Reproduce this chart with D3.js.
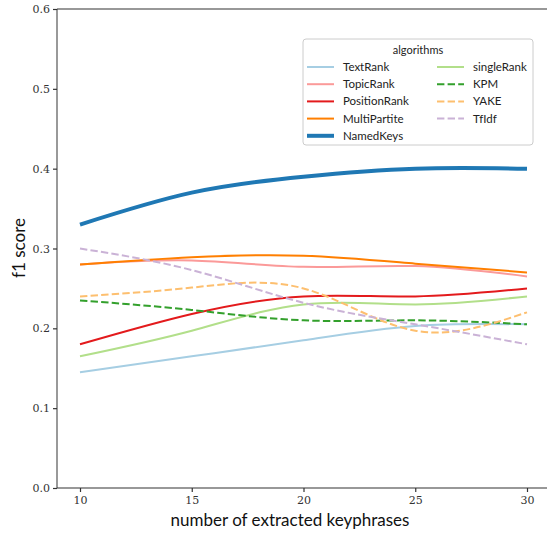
<!DOCTYPE html>
<html>
<head>
<meta charset="utf-8">
<script src="https://cdn.jsdelivr.net/npm/d3@7"></script>
<style>
  body { margin: 0; background: #fff; }
  svg { display: block; }
</style>
</head>
<body>
<div id="chart"></div>
<script>
var keyphrases = [10, 15, 20, 25, 30];

var algorithms = ['TextRank', 'TopicRank', 'PositionRank', 'MultiPartite', 'NamedKeys',
                  'singleRank', 'KPM', 'YAKE', 'TfIdf'];

var textRank     = [0.145, 0.165, 0.185, 0.203, 0.205];
var topicRank    = [0.280, 0.285, 0.277, 0.278, 0.265];
var positionRank = [0.180, 0.218, 0.240, 0.240, 0.250];
var multiPartite = [0.280, 0.289, 0.291, 0.281, 0.270];
var namedKeys    = [0.330, 0.370, 0.390, 0.400, 0.400];
var singleRank   = [0.165, 0.197, 0.230, 0.230, 0.240];
var kpm          = [0.235, 0.223, 0.210, 0.210, 0.205];
var yake         = [0.240, 0.251, 0.250, 0.197, 0.220];
var tfIdf        = [0.300, 0.273, 0.232, 0.205, 0.180];

var yTicks = [0.0, 0.1, 0.2, 0.3, 0.4, 0.5, 0.6];

var width = 547, height = 534;
var plotLeft = 57, plotTop = 9, plotBottom = 488;

var series = [
    {name: algorithms[0], values: textRank,     color: '#a6cee3', width: 2, dash: null},
    {name: algorithms[1], values: topicRank,    color: '#fb9a99', width: 2, dash: null},
    {name: algorithms[2], values: positionRank, color: '#e31a1c', width: 2, dash: null},
    {name: algorithms[3], values: multiPartite, color: '#ff7f00', width: 2, dash: null},
    {name: algorithms[4], values: namedKeys,    color: '#1f78b4', width: 4, dash: null},
    {name: algorithms[5], values: singleRank,   color: '#b2df8a', width: 2, dash: null},
    {name: algorithms[6], values: kpm,          color: '#33a02c', width: 2, dash: '7.4,3.2'},
    {name: algorithms[7], values: yake,         color: '#fdbf6f', width: 2, dash: '7.4,3.2'},
    {name: algorithms[8], values: tfIdf,        color: '#cab2d6', width: 2, dash: '7.4,3.2'}
];

var x = d3.scaleLinear().domain([10, 30]).range([80, 527]);
var y = d3.scaleLinear().domain([0, 0.6]).range([plotBottom, plotTop]);

var svg = d3.select('#chart')
    .append('svg')
    .attr('width', width)
    .attr('height', height);

var line = d3.line()
    .x((d, i) => x(keyphrases[i]))
    .y(d => y(d))
    .curve(d3.curveNatural);

svg.selectAll('.series')
    .data(series)
    .enter()
    .append('path')
    .attr('class', 'series')
    .attr('d', d => line(d.values))
    .attr('fill', 'none')
    .attr('stroke', d => d.color)
    .attr('stroke-width', d => d.width)
    .attr('stroke-dasharray', d => d.dash);

// spines (right one falls outside the picture)
svg.append('line').attr('x1', plotLeft).attr('x2', plotLeft).attr('y1', plotTop).attr('y2', plotBottom)
    .attr('stroke', '#555').attr('stroke-width', 1.2);
svg.append('line').attr('x1', plotLeft).attr('x2', width).attr('y1', plotBottom).attr('y2', plotBottom)
    .attr('stroke', '#333').attr('stroke-width', 1.2);
svg.append('line').attr('x1', plotLeft).attr('x2', width).attr('y1', plotTop).attr('y2', plotTop)
    .attr('stroke', '#333').attr('stroke-width', 1.2);

var xAxis = svg.append('g')
    .attr('transform', 'translate(0,' + plotBottom + ')')
    .call(d3.axisBottom(x).tickValues(keyphrases).tickSize(4).tickPadding(4).tickFormat(d3.format('d')));

var yAxis = svg.append('g')
    .attr('transform', 'translate(' + plotLeft + ',0)')
    .call(d3.axisLeft(y).tickValues(yTicks).tickSize(4).tickPadding(3).tickFormat(d3.format('.1f')));

[xAxis, yAxis].forEach(function (a) {
    a.select('.domain').remove();
    a.selectAll('.tick line').attr('stroke', '#333').attr('stroke-width', 1.2);
    a.selectAll('.tick text')
        .attr('fill', '#333')
        .style('font-family', '"DejaVu Serif", serif')
        .style('font-size', '11px');
});

svg.append('text')
    .attr('x', 290)
    .attr('y', 526)
    .attr('text-anchor', 'middle')
    .style('font-family', 'Lato, sans-serif')
    .style('font-size', '17px')
    .attr('fill', '#111')
    .text('number of extracted keyphrases');

svg.append('text')
    .attr('transform', 'translate(25,248) rotate(-90)')
    .attr('text-anchor', 'middle')
    .style('font-family', 'Lato, sans-serif')
    .style('font-size', '17px')
    .attr('fill', '#111')
    .text('f1 score');

// legend, two columns filled column-wise
var legend = svg.append('g').attr('transform', 'translate(303,39)');

legend.append('rect')
    .attr('width', 230)
    .attr('height', 106)
    .attr('rx', 3)
    .attr('fill', '#fff')
    .attr('fill-opacity', 0.8)
    .attr('stroke', '#ccc');

legend.append('text')
    .attr('x', 115)
    .attr('y', 15)
    .attr('text-anchor', 'middle')
    .style('font-family', 'Lato, sans-serif')
    .style('font-size', '11px')
    .attr('fill', '#222')
    .text('algorithms');

var items = legend.selectAll('.item')
    .data(series)
    .enter()
    .append('g')
    .attr('class', 'item')
    .attr('transform', (d, i) => 'translate(' + (i < 5 ? 4 : 134) + ',' + (28 + (i % 5) * 17.2) + ')');

items.append('line')
    .attr('x1', 0)
    .attr('x2', 27)
    .attr('stroke', d => d.color)
    .attr('stroke-width', d => d.width)
    .attr('stroke-dasharray', d => d.dash);

items.append('text')
    .attr('x', 36)
    .attr('y', 4)
    .style('font-family', 'Lato, sans-serif')
    .style('font-size', '11.5px')
    .attr('fill', '#222')
    .text(d => d.name);
</script>
</body>
</html>
